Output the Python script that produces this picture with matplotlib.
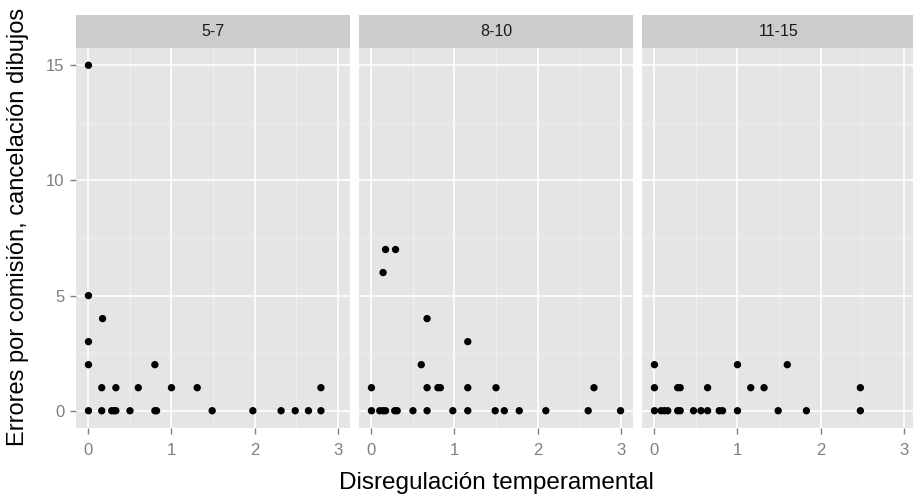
import matplotlib
matplotlib.use('Agg')
import matplotlib.pyplot as plt

plt.rcParams['font.family'] = ['Liberation Sans', 'DejaVu Sans']

# groups (edad) shown as facets
groups = ['5-7', '8-10', '11-15']

# Disregulación temperamental (x) and errores por comisión (y) per group
x_57 = [0, 0, 0, 0, 0.17, 0.8,
        0.16, 0.33, 0.6, 1.0, 1.31, 2.8,
        0, 0.16, 0.28, 0.31, 0.33, 0.5, 0.8, 0.82, 1.49, 1.98, 2.32, 2.49, 2.65, 2.8]
y_57 = [15, 5, 3, 2, 4, 2,
        1, 1, 1, 1, 1, 1,
        0, 0, 0, 0, 0, 0, 0, 0, 0, 0, 0, 0, 0, 0]

x_810 = [0.17, 0.29, 0.14, 0.67, 1.16, 0.6,
         0, 0.67, 0.8, 0.83, 1.16, 1.5, 2.68,
         0, 0.1, 0.14, 0.17, 0.28, 0.31, 0.5, 0.67, 0.98, 1.16, 1.49, 1.6, 1.78, 2.1, 2.61, 3.0]
y_810 = [7, 7, 6, 4, 3, 2,
         1, 1, 1, 1, 1, 1, 1,
         0, 0, 0, 0, 0, 0, 0, 0, 0, 0, 0, 0, 0, 0, 0, 0]

x_1115 = [0, 1.0, 1.6,
          0, 0.28, 0.31, 0.64, 1.16, 1.32, 2.48,
          0, 0.08, 0.12, 0.16, 0.28, 0.31, 0.47, 0.56, 0.64, 0.78, 0.82, 1.0, 1.49, 1.83, 2.48]
y_1115 = [2, 2, 2,
          1, 1, 1, 1, 1, 1, 1,
          0, 0, 0, 0, 0, 0, 0, 0, 0, 0, 0, 0, 0, 0, 0]

xs = [x_57, x_810, x_1115]
ys = [y_57, y_810, y_1115]

W, H = 913, 495
fig = plt.figure(figsize=(W / 100, H / 100), dpi=100)

panel_w = 274
gap = 9
left0 = 76
top, bottom = 48, 428
strip_top = 15

tick_grey = '#7F7F7F'

for i, g in enumerate(groups):
    left = left0 + i * (panel_w + gap)
    ax = fig.add_axes([left / W, (H - bottom) / H, panel_w / W, (bottom - top) / H])
    ax.set_facecolor('#E5E5E5')
    ax.set_xlim(-0.15, 3.15)
    ax.set_ylim(-0.75, 15.75)
    ax.set_xticks([0, 1, 2, 3])
    ax.set_xticks([0.5, 1.5, 2.5], minor=True)
    ax.set_yticks([0, 5, 10, 15])
    ax.set_yticks([2.5, 7.5, 12.5], minor=True)
    ax.grid(which='major', color='white', linewidth=1.2)
    ax.grid(which='minor', color='#F2F2F2', linewidth=0.5)
    ax.set_axisbelow(True)
    for s in ax.spines.values():
        s.set_visible(False)
    ax.tick_params(which='minor', length=0)
    ax.tick_params(which='major', length=4.5, width=1, color=tick_grey,
                   labelcolor=tick_grey, labelsize=12, pad=4)
    ax.tick_params(axis='x', pad=6)
    if i > 0:
        ax.tick_params(axis='y', left=False, labelleft=False)
    ax.scatter(xs[i], ys[i], s=28, color='black', edgecolors='none', zorder=3)

    sax = fig.add_axes([left / W, (H - top) / H, panel_w / W, (top - strip_top) / H])
    sax.set_facecolor('#CCCCCC')
    sax.set_xticks([])
    sax.set_yticks([])
    for s in sax.spines.values():
        s.set_visible(False)
    sax.text(0.5, 0.5, g, ha='center', va='center', fontsize=11.5, color='#1A1A1A',
             transform=sax.transAxes)

fig.text(496 / W, (H - 489) / H, 'Disregulación temperamental', ha='center',
         va='baseline', fontsize=17.5, color='black')
fig.text(18 / W, 1 - 227 / H, 'Errores por comisión, cancelación dibujos',
         ha='center', va='center', rotation=90, fontsize=17, color='black')

fig.savefig('out.png', dpi=100)
